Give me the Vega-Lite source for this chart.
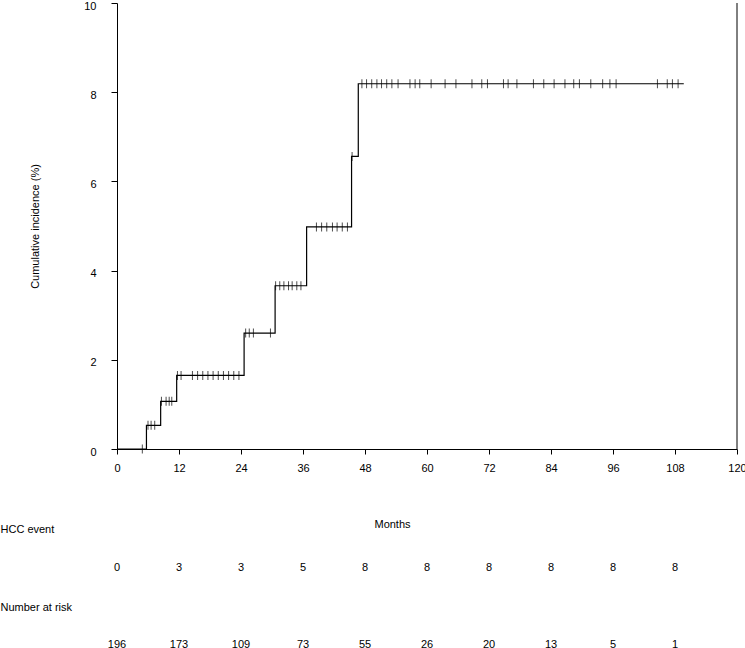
{
 "$schema": "https://vega.github.io/schema/vega-lite/v6.json",
 "background": "white",
 "padding": {"left": 0, "top": 0, "right": 0, "bottom": 0},
 "spacing": -7,
 "config": {
   "font": "Liberation Sans",
   "view": {"stroke": null},
   "axis": {"grid": false, "domainColor": "black", "tickColor": "black", "labelColor": "black", "titleColor": "black", "labelFontSize": 11, "titleFontSize": 11, "titleFontWeight": "normal", "labelFont": "Liberation Sans", "titleFont": "Liberation Sans", "domainWidth": 1, "tickWidth": 1}
 },
 "datasets": {
   "curve": [
     {"t": 0, "v": 0}, {"t": 5.7, "v": 0.53}, {"t": 8.45, "v": 1.07}, {"t": 11.55, "v": 1.65},
     {"t": 24.6, "v": 2.6}, {"t": 30.6, "v": 3.66}, {"t": 36.7, "v": 4.98}, {"t": 45.4, "v": 6.56},
     {"t": 46.7, "v": 8.19}, {"t": 109.7, "v": 8.19}
   ],
   "censor": [
     {"t": 4.9, "v": 0},
     {"t": 6.0, "v": 0.53}, {"t": 6.6, "v": 0.53}, {"t": 7.3, "v": 0.53},
     {"t": 8.6, "v": 1.07}, {"t": 9.5, "v": 1.07}, {"t": 10.1, "v": 1.07}, {"t": 10.6, "v": 1.07},
     {"t": 11.7, "v": 1.65}, {"t": 12.4, "v": 1.65}, {"t": 14.6, "v": 1.65}, {"t": 15.6, "v": 1.65},
     {"t": 16.6, "v": 1.65}, {"t": 17.6, "v": 1.65}, {"t": 18.6, "v": 1.65}, {"t": 19.6, "v": 1.65},
     {"t": 20.6, "v": 1.65}, {"t": 21.6, "v": 1.65}, {"t": 22.6, "v": 1.65}, {"t": 23.6, "v": 1.65},
     {"t": 24.9, "v": 2.6}, {"t": 25.6, "v": 2.6}, {"t": 26.4, "v": 2.6}, {"t": 29.7, "v": 2.6},
     {"t": 30.7, "v": 3.66}, {"t": 31.5, "v": 3.66}, {"t": 32.3, "v": 3.66}, {"t": 33.2, "v": 3.66},
     {"t": 33.9, "v": 3.66}, {"t": 34.8, "v": 3.66}, {"t": 35.6, "v": 3.66},
     {"t": 38.6, "v": 4.98}, {"t": 39.6, "v": 4.98}, {"t": 40.6, "v": 4.98}, {"t": 41.7, "v": 4.98},
     {"t": 42.6, "v": 4.98}, {"t": 43.6, "v": 4.98}, {"t": 44.6, "v": 4.98},
     {"t": 45.5, "v": 6.56},
     {"t": 47.4, "v": 8.19}, {"t": 48.3, "v": 8.19}, {"t": 49.3, "v": 8.19}, {"t": 50.3, "v": 8.19},
     {"t": 51.2, "v": 8.19}, {"t": 52.2, "v": 8.19}, {"t": 53.2, "v": 8.19}, {"t": 54.4, "v": 8.19},
     {"t": 56.7, "v": 8.19}, {"t": 57.7, "v": 8.19}, {"t": 58.6, "v": 8.19}, {"t": 60.8, "v": 8.19},
     {"t": 63.5, "v": 8.19}, {"t": 65.6, "v": 8.19}, {"t": 68.7, "v": 8.19}, {"t": 70.6, "v": 8.19},
     {"t": 71.7, "v": 8.19}, {"t": 74.8, "v": 8.19}, {"t": 75.7, "v": 8.19}, {"t": 77.4, "v": 8.19},
     {"t": 80.6, "v": 8.19}, {"t": 82.6, "v": 8.19}, {"t": 84.6, "v": 8.19}, {"t": 86.7, "v": 8.19},
     {"t": 88.4, "v": 8.19}, {"t": 89.5, "v": 8.19}, {"t": 91.7, "v": 8.19}, {"t": 94.0, "v": 8.19},
     {"t": 95.4, "v": 8.19}, {"t": 96.6, "v": 8.19}, {"t": 104.6, "v": 8.19}, {"t": 106.5, "v": 8.19},
     {"t": 107.5, "v": 8.19}, {"t": 108.6, "v": 8.19}
   ],
   "table": [
     {"row": 0, "t": 0, "n": 0}, {"row": 0, "t": 12, "n": 3}, {"row": 0, "t": 24, "n": 3}, {"row": 0, "t": 36, "n": 5},
     {"row": 0, "t": 48, "n": 8}, {"row": 0, "t": 60, "n": 8}, {"row": 0, "t": 72, "n": 8}, {"row": 0, "t": 84, "n": 8},
     {"row": 0, "t": 96, "n": 8}, {"row": 0, "t": 108, "n": 8},
     {"row": 1, "t": 0, "n": 196}, {"row": 1, "t": 12, "n": 173}, {"row": 1, "t": 24, "n": 109}, {"row": 1, "t": 36, "n": 73},
     {"row": 1, "t": 48, "n": 55}, {"row": 1, "t": 60, "n": 26}, {"row": 1, "t": 72, "n": 20}, {"row": 1, "t": 84, "n": 13},
     {"row": 1, "t": 96, "n": 5}, {"row": 1, "t": 108, "n": 1}
   ]
 },
 "vconcat": [
  {
   "width": 620, "height": 446,
   "layer": [
     {"data": {"name": "curve"},
      "mark": {"type": "line", "interpolate": "step-after", "color": "black", "strokeWidth": 1.2},
      "encoding": {
        "x": {"field": "t", "type": "quantitative", "scale": {"domain": [0, 120], "nice": false},
              "axis": {"values": [0, 12, 24, 36, 48, 60, 72, 84, 96, 108, 120], "tickSize": 5, "labelPadding": 8, "labelFlush": false, "labelOverlap": false,
                       "title": "Months", "titleX": 275, "titleY": 75, "titleAlign": "center", "titleBaseline": "middle"}},
        "y": {"field": "v", "type": "quantitative", "scale": {"domain": [0, 10], "nice": false},
              "axis": {"values": [0, 2, 4, 6, 8, 10], "tickSize": 6, "labelPadding": 15, "labelFlush": false, "labelOffset": 3,
                       "title": "Cumulative incidence (%)", "titleX": -82, "titleY": 223, "titleAngle": -90, "titleAlign": "center", "titleBaseline": "middle"}}
      }},
     {"data": {"name": "censor"},
      "mark": {"type": "tick", "orient": "vertical", "color": "black", "thickness": 1, "size": 9},
      "encoding": {"x": {"field": "t", "type": "quantitative"}, "y": {"field": "v", "type": "quantitative"}}},
     {"data": {"values": [{}]},
      "mark": {"type": "rule", "color": "black", "strokeWidth": 1},
      "encoding": {"x": {"datum": 120}, "y": {"datum": 0}, "y2": {"datum": 10}}}
   ]
  },
  {
   "width": 620, "height": 116,
   "data": {"name": "table"},
   "mark": {"type": "text", "fontSize": 11, "color": "black", "align": "center", "baseline": "middle"},
   "encoding": {
     "x": {"field": "t", "type": "quantitative", "scale": {"domain": [0, 120], "nice": false}, "axis": null},
     "y": {"field": "row", "type": "quantitative", "scale": {"domain": [-0.5, 1], "reverse": true, "nice": false, "zero": false},
           "axis": {"values": [0, 1], "labelExpr": "datum.value == 0 ? 'HCC event' : 'Number at risk'", "domain": false, "ticks": false, "tickSize": 0,
                    "labelAlign": "left", "labelPadding": 117, "labelOffset": -38, "labelBaseline": "middle", "title": null}},
     "text": {"field": "n", "type": "quantitative"}
   }
  }
 ]
}
